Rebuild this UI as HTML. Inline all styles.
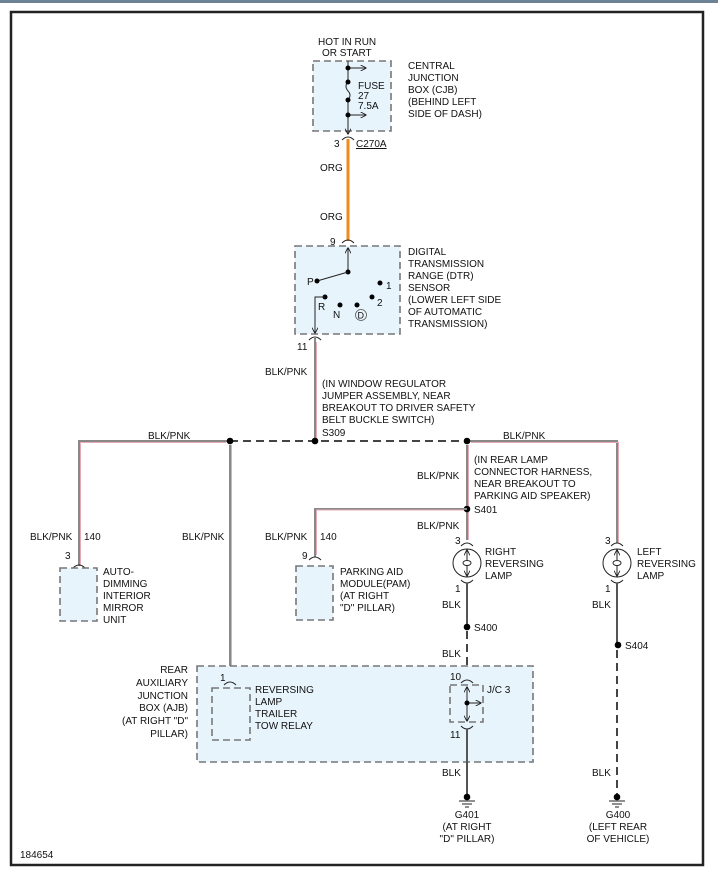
<!DOCTYPE html>
<html><head><meta charset="utf-8"><style>
html,body{margin:0;padding:0;background:#fff;width:718px;height:870px;overflow:hidden}
svg{display:block}
text{font-family:"Liberation Sans",Arial,sans-serif;font-size:10px;fill:#111}
.box{fill:#e8f4fc;stroke:#777;stroke-width:1.6;stroke-dasharray:7,4}
.bp{stroke:#888;stroke-width:2;fill:none}
.pk{stroke:#e6aab4;stroke-width:1;fill:none}
.blk{stroke:#555;stroke-width:2;fill:none}
.dsh{stroke:#444;stroke-width:2;fill:none;stroke-dasharray:8,5}
.th{stroke:#222;stroke-width:1;fill:none}
</style></head><body>
<svg width="718" height="870" viewBox="0 0 718 870" xmlns="http://www.w3.org/2000/svg">
<defs>
<marker id="ar" viewBox="0 0 10 10" refX="9" refY="5" markerWidth="6" markerHeight="6" orient="auto"><path d="M0,0 L10,5 L0,10" fill="none" stroke="#222" stroke-width="1.5"/></marker>
</defs>
<rect x="0" y="0" width="718" height="3" fill="#6e8296"/>
<rect x="11" y="12" width="692" height="853" fill="none" stroke="#222" stroke-width="2.5"/>

<!-- CJB -->
<text x="318" y="45">HOT IN RUN</text>
<text x="322" y="56">OR START</text>
<rect class="box" x="313" y="61" width="78" height="70"/>
<line class="th" x1="348" y1="61" x2="348" y2="82"/>
<path class="th" d="M348,82 q-4,4 0,9 q4,4 0,9"/>
<line class="th" x1="348" y1="100" x2="348" y2="134" marker-end="url(#ar)"/>
<line class="th" x1="348" y1="68" x2="366" y2="68" marker-end="url(#ar)"/>
<line class="th" x1="348" y1="115" x2="366" y2="115" marker-end="url(#ar)"/>
<circle cx="348" cy="68" r="2.5"/><circle cx="348" cy="82" r="2.5"/><circle cx="348" cy="100" r="2.5"/><circle cx="348" cy="115" r="2.5"/>
<text x="358" y="89">FUSE</text><text x="358" y="99">27</text><text x="358" y="109">7.5A</text>
<text x="408" y="69">CENTRAL</text><text x="408" y="81">JUNCTION</text><text x="408" y="93">BOX (CJB)</text><text x="408" y="105">(BEHIND LEFT</text><text x="408" y="117">SIDE OF DASH)</text>
<path class="th" d="M342,140 q6,-6 12,0"/>
<text x="334" y="147">3</text>
<text x="356" y="147" text-decoration="underline">C270A</text>
<line x1="348" y1="139" x2="348" y2="241" stroke="#f28a1e" stroke-width="3"/>
<text x="320" y="171">ORG</text><text x="320" y="220">ORG</text>
<path class="th" d="M342,243 q6,-6 12,0"/>
<text x="330" y="245">9</text>

<!-- DTR -->
<rect class="box" x="295" y="246" width="105" height="88"/>
<line class="th" x1="348" y1="272" x2="348" y2="248" marker-end="url(#ar)"/>
<circle cx="348" cy="272" r="2.5"/>
<line class="th" x1="348" y1="272" x2="317" y2="281"/>
<circle cx="317" cy="281" r="2.5"/><text x="307" y="285">P</text>
<circle cx="380" cy="283" r="2.5"/><text x="386" y="289">1</text>
<circle cx="325" cy="297" r="2.5"/>
<path class="th" d="M325,297 H315 V333" marker-end="url(#ar)"/>
<text x="318" y="310">R</text>
<circle cx="340" cy="305" r="2.5"/><text x="333" y="318">N</text>
<circle cx="357" cy="305" r="2.5"/><circle cx="361" cy="315" r="5.5" fill="none" stroke="#555" stroke-width="0.8"/><text x="357.5" y="318.5" style="font-size:9px">D</text>
<circle cx="372" cy="297" r="2.5"/><text x="377" y="306">2</text>
<text x="408" y="255">DIGITAL</text><text x="408" y="267">TRANSMISSION</text><text x="408" y="279">RANGE (DTR)</text><text x="408" y="291">SENSOR</text><text x="408" y="303">(LOWER LEFT SIDE</text><text x="408" y="315">OF AUTOMATIC</text><text x="408" y="327">TRANSMISSION)</text>
<path class="th" d="M309,340 q6,-6 12,0"/>
<text x="297" y="350">11</text>

<!-- BLK/PNK wires -->
<line class="bp" x1="315" y1="338" x2="315" y2="441"/>
<line class="pk" x1="316.5" y1="342" x2="316.5" y2="438"/>
<text x="265" y="375">BLK/PNK</text>
<text x="322" y="387">(IN WINDOW REGULATOR</text><text x="322" y="399">JUMPER ASSEMBLY, NEAR</text><text x="322" y="411">BREAKOUT TO DRIVER SAFETY</text><text x="322" y="423">BELT BUCKLE SWITCH)</text><text x="322" y="436">S309</text>

<polyline class="bp" points="79,566 79,441 230,441"/>
<polyline class="pk" points="80.5,566 80.5,442.5 226,442.5"/>
<line class="dsh" x1="230" y1="441" x2="467" y2="441"/>
<polyline class="bp" points="467,441 617,441 617,543"/>
<polyline class="pk" points="471,442.5 618.5,442.5 618.5,543"/>
<circle cx="230" cy="441" r="3.3"/><circle cx="315" cy="441" r="3.3"/><circle cx="467" cy="441" r="3.3"/>
<text x="148" y="439">BLK/PNK</text><text x="503" y="439">BLK/PNK</text>

<!-- mirror -->
<text x="30" y="540">BLK/PNK</text><text x="84" y="540">140</text>
<path class="th" d="M73,568 q6,-6 12,0"/>
<text x="65" y="559">3</text>
<rect class="box" x="60" y="568" width="37" height="53"/>
<text x="103" y="575">AUTO-</text><text x="103" y="587">DIMMING</text><text x="103" y="599">INTERIOR</text><text x="103" y="611">MIRROR</text><text x="103" y="623">UNIT</text>

<!-- x=230 drop -->
<line class="bp" x1="230" y1="445" x2="230" y2="682"/>
<line class="pk" x1="231.5" y1="445" x2="231.5" y2="680"/>
<text x="182" y="540">BLK/PNK</text>

<!-- x=467 upper -->
<line class="bp" x1="467" y1="445" x2="467" y2="540"/>
<line class="pk" x1="468.5" y1="445" x2="468.5" y2="540"/>
<text x="417" y="479">BLK/PNK</text>
<text x="474" y="463">(IN REAR LAMP</text><text x="474" y="475">CONNECTOR HARNESS,</text><text x="474" y="487">NEAR BREAKOUT TO</text><text x="474" y="499">PARKING AID SPEAKER)</text>
<circle cx="467" cy="509" r="3.3"/><text x="474" y="513">S401</text>
<polyline class="bp" points="467,509 315,509 315,557"/>
<polyline class="pk" points="464,510 316.5,510 316.5,555"/>
<text x="417" y="529">BLK/PNK</text>

<!-- PAM -->
<text x="265" y="540">BLK/PNK</text><text x="320" y="540">140</text>
<path class="th" d="M309,560 q6,-6 12,0"/>
<text x="302" y="559">9</text>
<rect class="box" x="296" y="566" width="37" height="54"/>
<text x="340" y="575">PARKING AID</text><text x="340" y="587">MODULE(PAM)</text><text x="340" y="599">(AT RIGHT</text><text x="340" y="611">"D" PILLAR)</text>

<!-- right lamp -->
<g id="lampR">
<path class="th" d="M461,546 q6,-6 12,0"/>
<circle cx="467" cy="563" r="14" fill="none" stroke="#222" stroke-width="1"/>
<line class="th" x1="467" y1="560" x2="467" y2="550" marker-end="url(#ar)"/>
<line class="th" x1="467" y1="566" x2="467" y2="576" marker-end="url(#ar)"/>
<ellipse cx="467" cy="563" rx="4" ry="2.5" fill="none" stroke="#222" stroke-width="1"/>
<path class="th" d="M461,580 q6,6 12,0"/>
</g>
<text x="455" y="544">3</text><text x="455" y="592">1</text>
<text x="485" y="555">RIGHT</text><text x="485" y="567">REVERSING</text><text x="485" y="579">LAMP</text>
<line class="blk" x1="467" y1="583" x2="467" y2="627"/>
<text x="442" y="608">BLK</text>
<circle cx="467" cy="627" r="3.3"/><text x="474" y="631">S400</text>
<line class="dsh" x1="467" y1="631" x2="467" y2="676"/>
<text x="442" y="657">BLK</text>

<!-- AJB -->
<rect class="box" x="197" y="666" width="336" height="96"/>
<text x="188" y="673" text-anchor="end">REAR</text><text x="188" y="686" text-anchor="end">AUXILIARY</text><text x="188" y="699" text-anchor="end">JUNCTION</text><text x="188" y="711" text-anchor="end">BOX (AJB)</text><text x="188" y="724" text-anchor="end">(AT RIGHT "D"</text><text x="188" y="737" text-anchor="end">PILLAR)</text>
<path class="th" d="M224,685 q6,-6 12,0"/>
<text x="220" y="681">1</text>
<rect class="box" x="212" y="688" width="38" height="52"/>
<text x="255" y="693">REVERSING</text><text x="255" y="705">LAMP</text><text x="255" y="717">TRAILER</text><text x="255" y="729">TOW RELAY</text>
<path class="th" d="M461,683 q6,-6 12,0"/>
<text x="450" y="680">10</text>
<rect class="box" x="450" y="685" width="33" height="37"/>
<line class="th" x1="467" y1="703" x2="467" y2="687" marker-end="url(#ar)"/>
<line class="th" x1="467" y1="703" x2="467" y2="721" marker-end="url(#ar)"/>
<line class="th" x1="467" y1="703" x2="481" y2="703" marker-end="url(#ar)"/>
<circle cx="467" cy="703" r="2.5"/>
<text x="487" y="693">J/C 3</text>
<path class="th" d="M461,726 q6,6 12,0"/>
<text x="450" y="738">11</text>
<line class="blk" x1="467" y1="729" x2="467" y2="795"/>
<text x="442" y="776">BLK</text>

<!-- left lamp -->
<use href="#lampR" x="150"/>
<text x="605" y="544">3</text><text x="605" y="592">1</text>
<text x="637" y="555">LEFT</text><text x="637" y="567">REVERSING</text><text x="637" y="579">LAMP</text>
<line class="blk" x1="617" y1="583" x2="617" y2="645"/>
<text x="592" y="608">BLK</text>
<circle cx="618" cy="645" r="3.3"/><text x="625" y="649">S404</text>
<line class="dsh" x1="617" y1="650" x2="617" y2="795"/>
<text x="592" y="776">BLK</text>

<!-- grounds -->
<g>
<circle cx="467" cy="797" r="3.3"/><line class="th" x1="459" y1="801" x2="475" y2="801"/><line class="th" x1="462" y1="804" x2="472" y2="804"/><line class="th" x1="465" y1="807" x2="469" y2="807"/>
</g>
<g>
<circle cx="617" cy="797" r="3.3"/><line class="th" x1="609" y1="801" x2="625" y2="801"/><line class="th" x1="612" y1="804" x2="622" y2="804"/><line class="th" x1="615" y1="807" x2="619" y2="807"/>
</g>
<text x="467" y="818" text-anchor="middle">G401</text><text x="467" y="830" text-anchor="middle">(AT RIGHT</text><text x="467" y="842" text-anchor="middle">"D" PILLAR)</text>
<text x="618" y="818" text-anchor="middle">G400</text><text x="618" y="830" text-anchor="middle">(LEFT REAR</text><text x="618" y="842" text-anchor="middle">OF VEHICLE)</text>
<text x="20" y="858">184654</text>
</svg>
</body></html>
